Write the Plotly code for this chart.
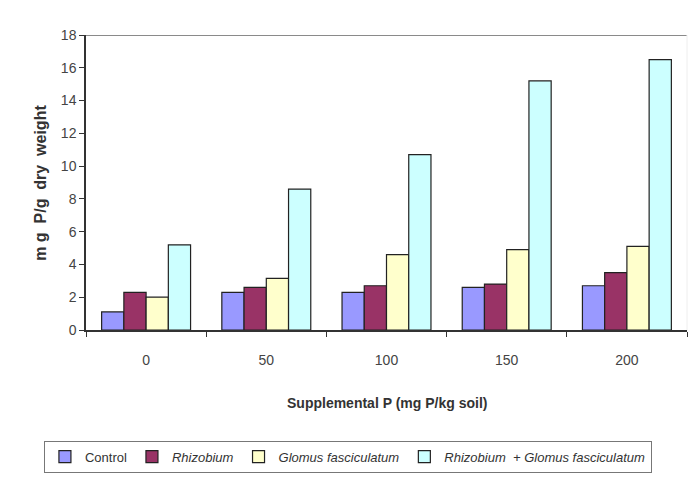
import plotly.graph_objects as go

# Supplemental phosphorus levels (mg P/kg soil)
p_levels = ["0", "50", "100", "150", "200"]

# P content, mg P/g dry weight, per treatment
control = [1.1, 2.3, 2.3, 2.6, 2.7]
rhizobium = [2.3, 2.6, 2.7, 2.8, 3.5]
glomus = [2.0, 3.15, 4.6, 4.9, 5.1]
rhizobium_glomus = [5.2, 8.6, 10.7, 15.2, 16.5]

y_ticks = [0, 2, 4, 6, 8, 10, 12, 14, 16, 18]

series = [
    ("Control", control, "#9999FF"),
    ("<i>Rhizobium</i>", rhizobium, "#993366"),
    ("<i>Glomus fasciculatum</i>", glomus, "#FFFFCC"),
    ("<i>Rhizobium  + Glomus fasciculatum</i>", rhizobium_glomus, "#CCFFFF"),
]

fig = go.Figure()
for name, vals, color in series:
    fig.add_trace(go.Bar(
        x=p_levels, y=vals, name=name,
        marker=dict(color=color, line=dict(color="#222222", width=1.2)),
    ))

font_family = "Liberation Sans, Arial, sans-serif"

fig.update_layout(
    width=691, height=483,
    margin=dict(l=86, r=4, t=35, b=153, autoexpand=False),
    paper_bgcolor="white", plot_bgcolor="white",
    barmode="group", bargap=0.26, bargroupgap=0,
    font=dict(family=font_family, color="#333333"),
    showlegend=True,
    legend=dict(
        orientation="h", x=-0.07, xanchor="left", y=-0.375, yanchor="top",
        bordercolor="#777777", borderwidth=1, bgcolor="white",
        font=dict(size=13, color="#333333", family=font_family),
        itemwidth=30, traceorder="normal",
    ),
    xaxis=dict(
        type="category", showline=True, linecolor="#333333", linewidth=1.5,
        ticks="outside", ticklen=5, tickcolor="#333333", tickson="boundaries",
        tickfont=dict(size=14, color="#444444"), ticklabelstandoff=16,
        showgrid=False, zeroline=False,
    ),
    yaxis=dict(
        range=[0, 18], tickvals=y_ticks, showline=True, linecolor="#333333",
        linewidth=1.5, ticks="outside", ticklen=5, tickcolor="#333333",
        tickfont=dict(size=14, color="#444444"), showgrid=False, zeroline=False,
    ),
    shapes=[
        dict(type="line", xref="paper", yref="y", x0=0, x1=1, y0=18, y1=18,
             line=dict(color="#8a8a8a", width=2)),
        dict(type="line", xref="paper", yref="paper", x0=1, x1=1, y0=0, y1=1,
             line=dict(color="#eeeeee", width=1)),
    ],
    annotations=[
        dict(text="<b>m g  P/g  dry  weight</b>", xref="paper", yref="paper",
             x=-0.076, y=0.5, xanchor="center", yanchor="middle", textangle=-90,
             showarrow=False, font=dict(size=16, color="#333333", family=font_family)),
        dict(text="<b>Supplemental P (mg P/kg soil)</b>", xref="paper", yref="paper",
             x=0.5, y=-0.248, xanchor="center", yanchor="middle",
             showarrow=False, font=dict(size=14, color="#333333", family=font_family)),
    ],
)

fig.write_html("out.html")
